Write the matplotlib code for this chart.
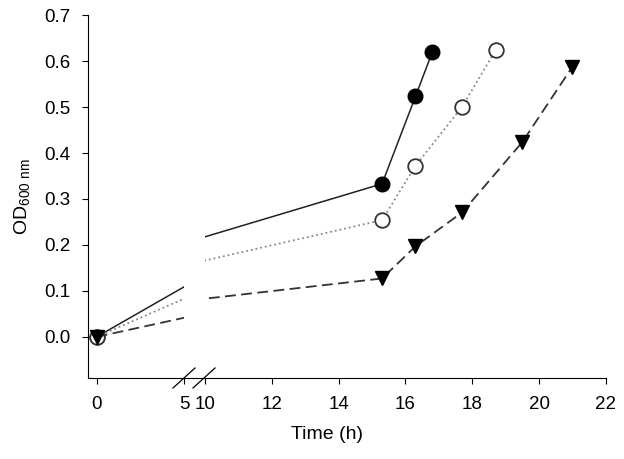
import matplotlib.pyplot as plt
from matplotlib.lines import Line2D

plt.rcParams['font.family'] = ['Liberation Sans', 'DejaVu Sans']
plt.rcParams['mathtext.fontset'] = 'custom'
plt.rcParams['mathtext.rm'] = 'Liberation Sans'

# growth curves (time in h, OD600)
time_a = [0, 15.3, 16.3, 16.8]
od_a = [0.0, 0.333, 0.523, 0.619]

time_b = [0, 15.3, 16.3, 17.7, 18.7]
od_b = [0.0, 0.254, 0.372, 0.501, 0.624]

time_c = [0, 15.3, 16.3, 17.7, 19.5, 21.0]
od_c = [0.0, 0.127, 0.197, 0.271, 0.424, 0.588]

yticks = [0.0, 0.1, 0.2, 0.3, 0.4, 0.5, 0.6, 0.7]
left_xticks = [0, 5]
right_xticks = [10, 12, 14, 16, 18, 20, 22]

fig = plt.figure(figsize=(6.24, 4.59), dpi=100)
ax1 = fig.add_axes([0.141, 0.176, 0.154, 0.791])
ax2 = fig.add_axes([0.3285, 0.176, 0.6425, 0.791])

series = [
    (time_a, od_a, dict(color='#222222', ls='-', lw=1.1, marker='o', mfc='black', mec='black')),
    (time_b, od_b, dict(color='#888888', ls=':', lw=1.3, marker='o', mfc='white', mec='#333333', mew=1.3)),
    (time_c, od_c, dict(color='#333333', ls=(0, (6, 3)), lw=1.3, marker='v', mfc='black', mec='black')),
]

for ax in (ax1, ax2):
    for t, od, st in series:
        ax.plot(t, od, ms=10.5, **st)
    ax.set_ylim(-0.09, 0.7)
    ax.spines['top'].set_visible(False)
    ax.tick_params(direction='out', labelsize=13.5, length=4.5, pad=8)

ax1.set_xlim(-0.5, 5)
ax1.set_xticks(left_xticks)
ax1.set_yticks(yticks)
ax1.set_yticklabels(['%.1f' % v for v in yticks])
ax1.spines['right'].set_visible(False)
ax1.set_ylabel(r'OD$_{\mathrm{600\ nm}}$', fontsize=14, labelpad=8)

ax2.set_xlim(10, 22)
ax2.set_xticks(right_xticks)
ax2.spines['left'].set_visible(False)
ax2.spines['right'].set_visible(False)
ax2.set_yticks([])
ax2.set_xlabel('Time (h)', fontsize=14, x=0.305, labelpad=10)

# continuous bottom axis across the gap plus break marks
fig.add_artist(Line2D([0.295, 0.3285], [0.176, 0.176], color='black', lw=0.8))
for x0 in (173, 193):
    fig.add_artist(Line2D([x0 / 624, (x0 + 22) / 624],
                          [1 - 388 / 459, 1 - 368 / 459], color='black', lw=0.9))

fig.savefig('out.png', dpi=100)
